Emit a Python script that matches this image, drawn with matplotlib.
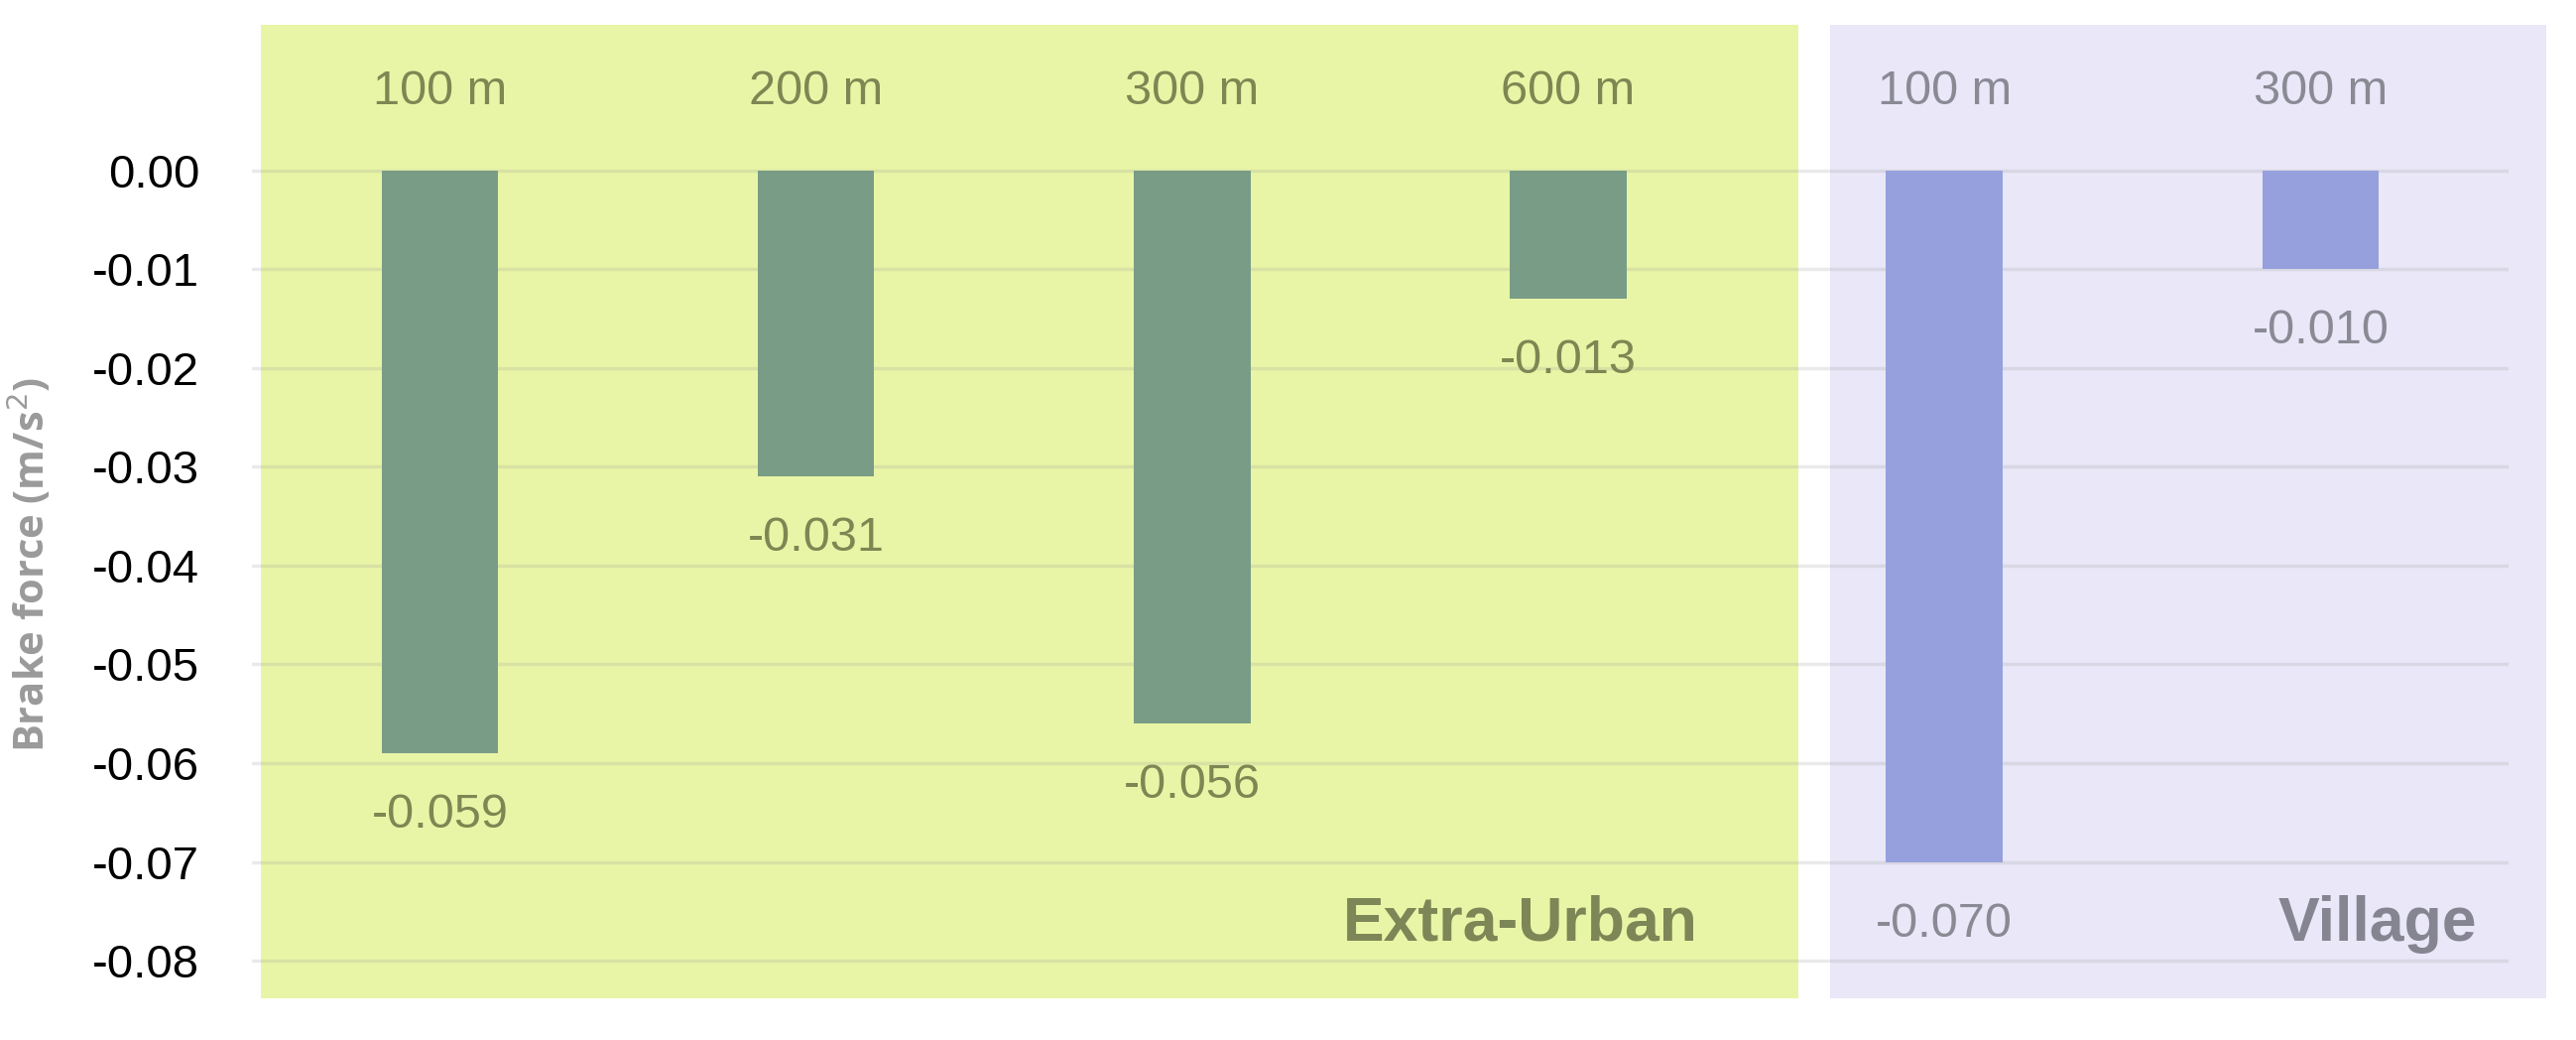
import matplotlib
matplotlib.use("Agg")
import matplotlib.pyplot as plt

# data
categories = ["100 m", "200 m", "300 m", "600 m", "100 m", "300 m"]
values = [-0.059, -0.031, -0.056, -0.013, -0.070, -0.010]
groups = ["Extra-Urban", "Extra-Urban", "Extra-Urban", "Extra-Urban", "Village", "Village"]
yticks = [0.00, -0.01, -0.02, -0.03, -0.04, -0.05, -0.06, -0.07, -0.08]

bar_col = {"Extra-Urban": "#789c86", "Village": "#95a0dc"}
text_col = {"Extra-Urban": "#7d8753", "Village": "#8a8a95"}

sans = ["Liberation Sans", "DejaVu Sans"]

fig = plt.figure(figsize=(25.97, 10.48), dpi=100)
ax = fig.add_axes([0.0978, 0.040, 0.876, 0.936])

x = list(range(len(values)))

# background panels for the two groups
ax.axvspan(-0.476, 3.612, color="#e9f5a6", zorder=0, lw=0)
ax.axvspan(3.697, 5.601, color="#e9e7f8", zorder=0, lw=0, clip_on=False)

ax.bar(x, values, width=0.31, color=[bar_col[g] for g in groups], zorder=2)

# category labels on top, values under the bars
for i, (cat, val, g) in enumerate(zip(categories, values, groups)):
    ax.text(i, 0.0079, cat, ha="center", va="center", fontsize=35,
            color=text_col[g], family=sans)
    ax.annotate(f"{val:.3f}", (i, val), xytext=(0, -45), textcoords="offset points",
                ha="center", va="center", fontsize=35, color=text_col[g], family=sans)

ax.text(3.346, -0.0763, "Extra-Urban", ha="right", va="center", fontsize=45,
        fontweight="bold", color="#7d8656", family=sans)
ax.text(5.415, -0.0763, "Village", ha="right", va="center", fontsize=45,
        fontweight="bold", color="#858591", family=sans)

ax.set_xlim(-0.5, 5.5)
ax.set_ylim(-0.0838, 0.0147)
ax.set_yticks(yticks)
ax.set_yticklabels([f"{t:.2f}" for t in yticks], family=sans, fontsize=34)
ax.set_xticks([])
ax.tick_params(axis="y", length=0, pad=38)
ax.yaxis.grid(True, color="#a0a0a0", alpha=0.22, lw=2.5)
ax.set_axisbelow("line")
for s in ax.spines.values():
    s.set_visible(False)
ax.patch.set_visible(False)

ax.set_ylabel("Brake force (m/s$^2$)", fontsize=30, fontweight="bold",
              color="#9a9a9a", family=["Open Sans", "DejaVu Sans"])
ax.yaxis.set_label_coords(-0.0875, 0.446)

fig.savefig("out.png", dpi=100, facecolor="white")
